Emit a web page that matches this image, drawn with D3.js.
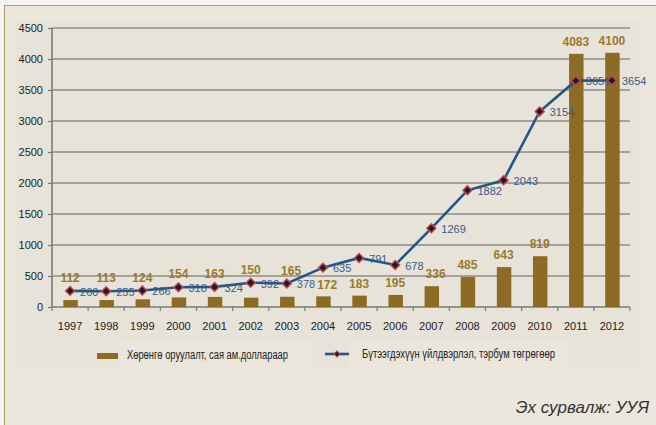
<!DOCTYPE html>
<html><head><meta charset="utf-8">
<script src="https://cdn.jsdelivr.net/npm/d3@7"></script>
<style>
html,body{margin:0;padding:0;background:#f4f4f0;}
svg{display:block;}
</style></head>
<body>
<svg id="c" width="656" height="425"></svg>
<script>
const years = ["1997","1998","1999","2000","2001","2002","2003","2004","2005","2006","2007","2008","2009","2010","2011","2012"];
const investment = [112,113,124,154,163,150,165,172,183,195,336,485,643,819,4083,4100];
const production = [260,255,266,318,324,392,378,635,791,678,1269,1882,2043,3154,3651,3654];
const yTicks = [0,500,1000,1500,2000,2500,3000,3500,4000,4500];
const legendLabels = ["Хөрөнгө оруулалт, сая ам.доллараар","Бүтээгдэхүүн үйлдвэрлэл, тэрбум төгрөгөөр"];
const sourceText = "Эх сурвалж: УУЯ";

const svg = d3.select("#c");
const font = "'Liberation Sans', Arial, sans-serif";
const barColor = "#8c6b24", lineColor = "#215688";

// panel
svg.append("rect").attr("x",0).attr("y",0).attr("width",656).attr("height",425).attr("fill","#f4f4f0");
svg.append("rect").attr("x",4.5).attr("y",5.5).attr("width",660).attr("height",430).attr("fill","#ece7dd").attr("stroke","#b19b6b").attr("stroke-width",1);
svg.append("rect").attr("x",15).attr("y",21).attr("width",624).attr("height",348).attr("fill","#e7e3d9");
svg.append("rect").attr("x",120).attr("y",340).attr("width",193).attr("height",29).attr("fill","#ebe6dc");
svg.append("rect").attr("x",350).attr("y",340).attr("width",219).attr("height",29).attr("fill","#ebe6dc");

const L = 52, R = 630, T = 28, B = 307;
const x = d3.scaleBand().domain(years).range([L,R]).padding(0);
const y = d3.scaleLinear().domain([0,4500]).range([B,T]);

// grid
svg.append("g").selectAll("line").data(yTicks.slice(1)).join("line")
  .attr("x1",L).attr("x2",R).attr("y1",d=>y(d)).attr("y2",d=>y(d))
  .attr("stroke","#8f8c86").attr("stroke-width",1.6);

// y axis
const ya = svg.append("g").attr("transform",`translate(${L},0)`)
  .call(d3.axisLeft(y).tickValues(yTicks).tickSize(4).tickPadding(5).tickFormat(d3.format("d")));
ya.select(".domain").attr("stroke","#7d7a75").attr("stroke-width",1.6).attr("d",`M-0,${B}V${T}`);
ya.selectAll(".tick line").attr("stroke","#7d7a75").attr("stroke-width",1.2);
ya.selectAll("text").attr("font-family",font).attr("font-size",11).attr("fill","#222");

// x axis
svg.append("line").attr("x1",L).attr("x2",R).attr("y1",B).attr("y2",B).attr("stroke","#7d7a75").attr("stroke-width",1.6);
const bounds = years.map(d=>x(d)).concat([x(years[years.length-1])+x.bandwidth()]);
svg.append("g").selectAll("line").data(bounds).join("line")
  .attr("x1",d=>d).attr("x2",d=>d).attr("y1",B).attr("y2",B+4).attr("stroke","#7d7a75").attr("stroke-width",1.2);
svg.append("g").selectAll("text").data(years).join("text")
  .attr("x",d=>x(d)+x.bandwidth()/2).attr("y",326).attr("dy","0.35em")
  .attr("text-anchor","middle").attr("font-family",font).attr("font-size",11).attr("fill","#222").text(d=>d);

// bars
const bw = x.bandwidth()*0.4;
svg.append("g").selectAll("rect").data(investment).join("rect")
  .attr("x",(d,i)=>x(years[i])+x.bandwidth()/2-bw/2+0.5).attr("width",bw)
  .attr("y",d=>y(d)).attr("height",d=>B-y(d)).attr("fill",barColor);

// line
const cx = i => x(years[i])+x.bandwidth()/2;
const line = d3.line().x((d,i)=>cx(i)).y(d=>y(d));
svg.append("path").datum(production).attr("d",line).attr("fill","none").attr("stroke",lineColor).attr("stroke-width",2.6);
const diamond = d3.symbol().type(d3.symbolSquare).size(40);
svg.append("g").selectAll("path").data(production).join("path")
  .attr("d",diamond).attr("transform",(d,i)=>`translate(${cx(i)},${y(d)}) rotate(45)`)
  .attr("fill","#0f1f3d").attr("stroke","#d8403c").attr("stroke-width",1.4);

// line labels
const lineLabels = svg.append("g").selectAll("text").data(production).join("text")
  .attr("x",(d,i)=>cx(i)+10).attr("y",d=>y(d)+1).attr("dy","0.35em")
  .attr("font-family",font).attr("font-size",11).attr("fill","#3b5a84").text(d=>d);
const lineBoxes = lineLabels.nodes().map(n=>n.getBBox());

// bar labels
const barLabels = svg.append("g").selectAll("text").data(investment).join("text")
  .attr("x",(d,i)=>cx(i)).attr("y",(d,i)=>{
    const top = y(d), ly = y(production[i]);
    const gap = top - ly;
    return (gap >= 0 && gap < 20) ? ly-13 : top-12;
  }).attr("dy","0.35em")
  .attr("text-anchor","middle").attr("font-family",font).attr("font-weight","bold")
  .attr("font-size",12).attr("fill","#9a7a2c").text(d=>d);
// nudge bar labels that collide with the previous point's value label
barLabels.each(function(d,i){
  if(i===0) return;
  const b = this.getBBox(), p = lineBoxes[i-1];
  const vOverlap = b.y < p.y+p.height && p.y < b.y+b.height;
  if(vOverlap && p.x+p.width > b.x-1){
    d3.select(this).attr("x", cx(i) + (p.x+p.width - b.x) + 2);
  }
});

// legend
svg.append("rect").attr("x",97).attr("y",353).attr("width",21).attr("height",6).attr("fill",barColor);
svg.append("text").attr("x",127).attr("y",355).attr("dy","0.35em")
  .attr("font-family","'Liberation Sans Narrow','Arial Narrow',"+font).attr("font-size",12)
  .attr("textLength",161).attr("lengthAdjust","spacingAndGlyphs").attr("fill","#222").text(legendLabels[0]);
svg.append("line").attr("x1",325).attr("x2",349).attr("y1",354).attr("y2",354).attr("stroke",lineColor).attr("stroke-width",2.6);
svg.append("path").attr("d",d3.symbol().type(d3.symbolSquare).size(18)).attr("transform","translate(337,354) rotate(45)")
  .attr("fill","#0f1f3d").attr("stroke","#d8403c").attr("stroke-width",1);
svg.append("text").attr("x",362).attr("y",354).attr("dy","0.35em")
  .attr("font-family","'Liberation Sans Narrow','Arial Narrow',"+font).attr("font-size",12)
  .attr("textLength",193).attr("lengthAdjust","spacingAndGlyphs").attr("fill","#222").text(legendLabels[1]);

// source
svg.append("text").attr("x",649).attr("y",407).attr("dy","0.35em").attr("text-anchor","end")
  .attr("font-family",font).attr("font-style","italic").attr("font-size",17).attr("fill","#333").text(sourceText);
</script>
</body></html>
